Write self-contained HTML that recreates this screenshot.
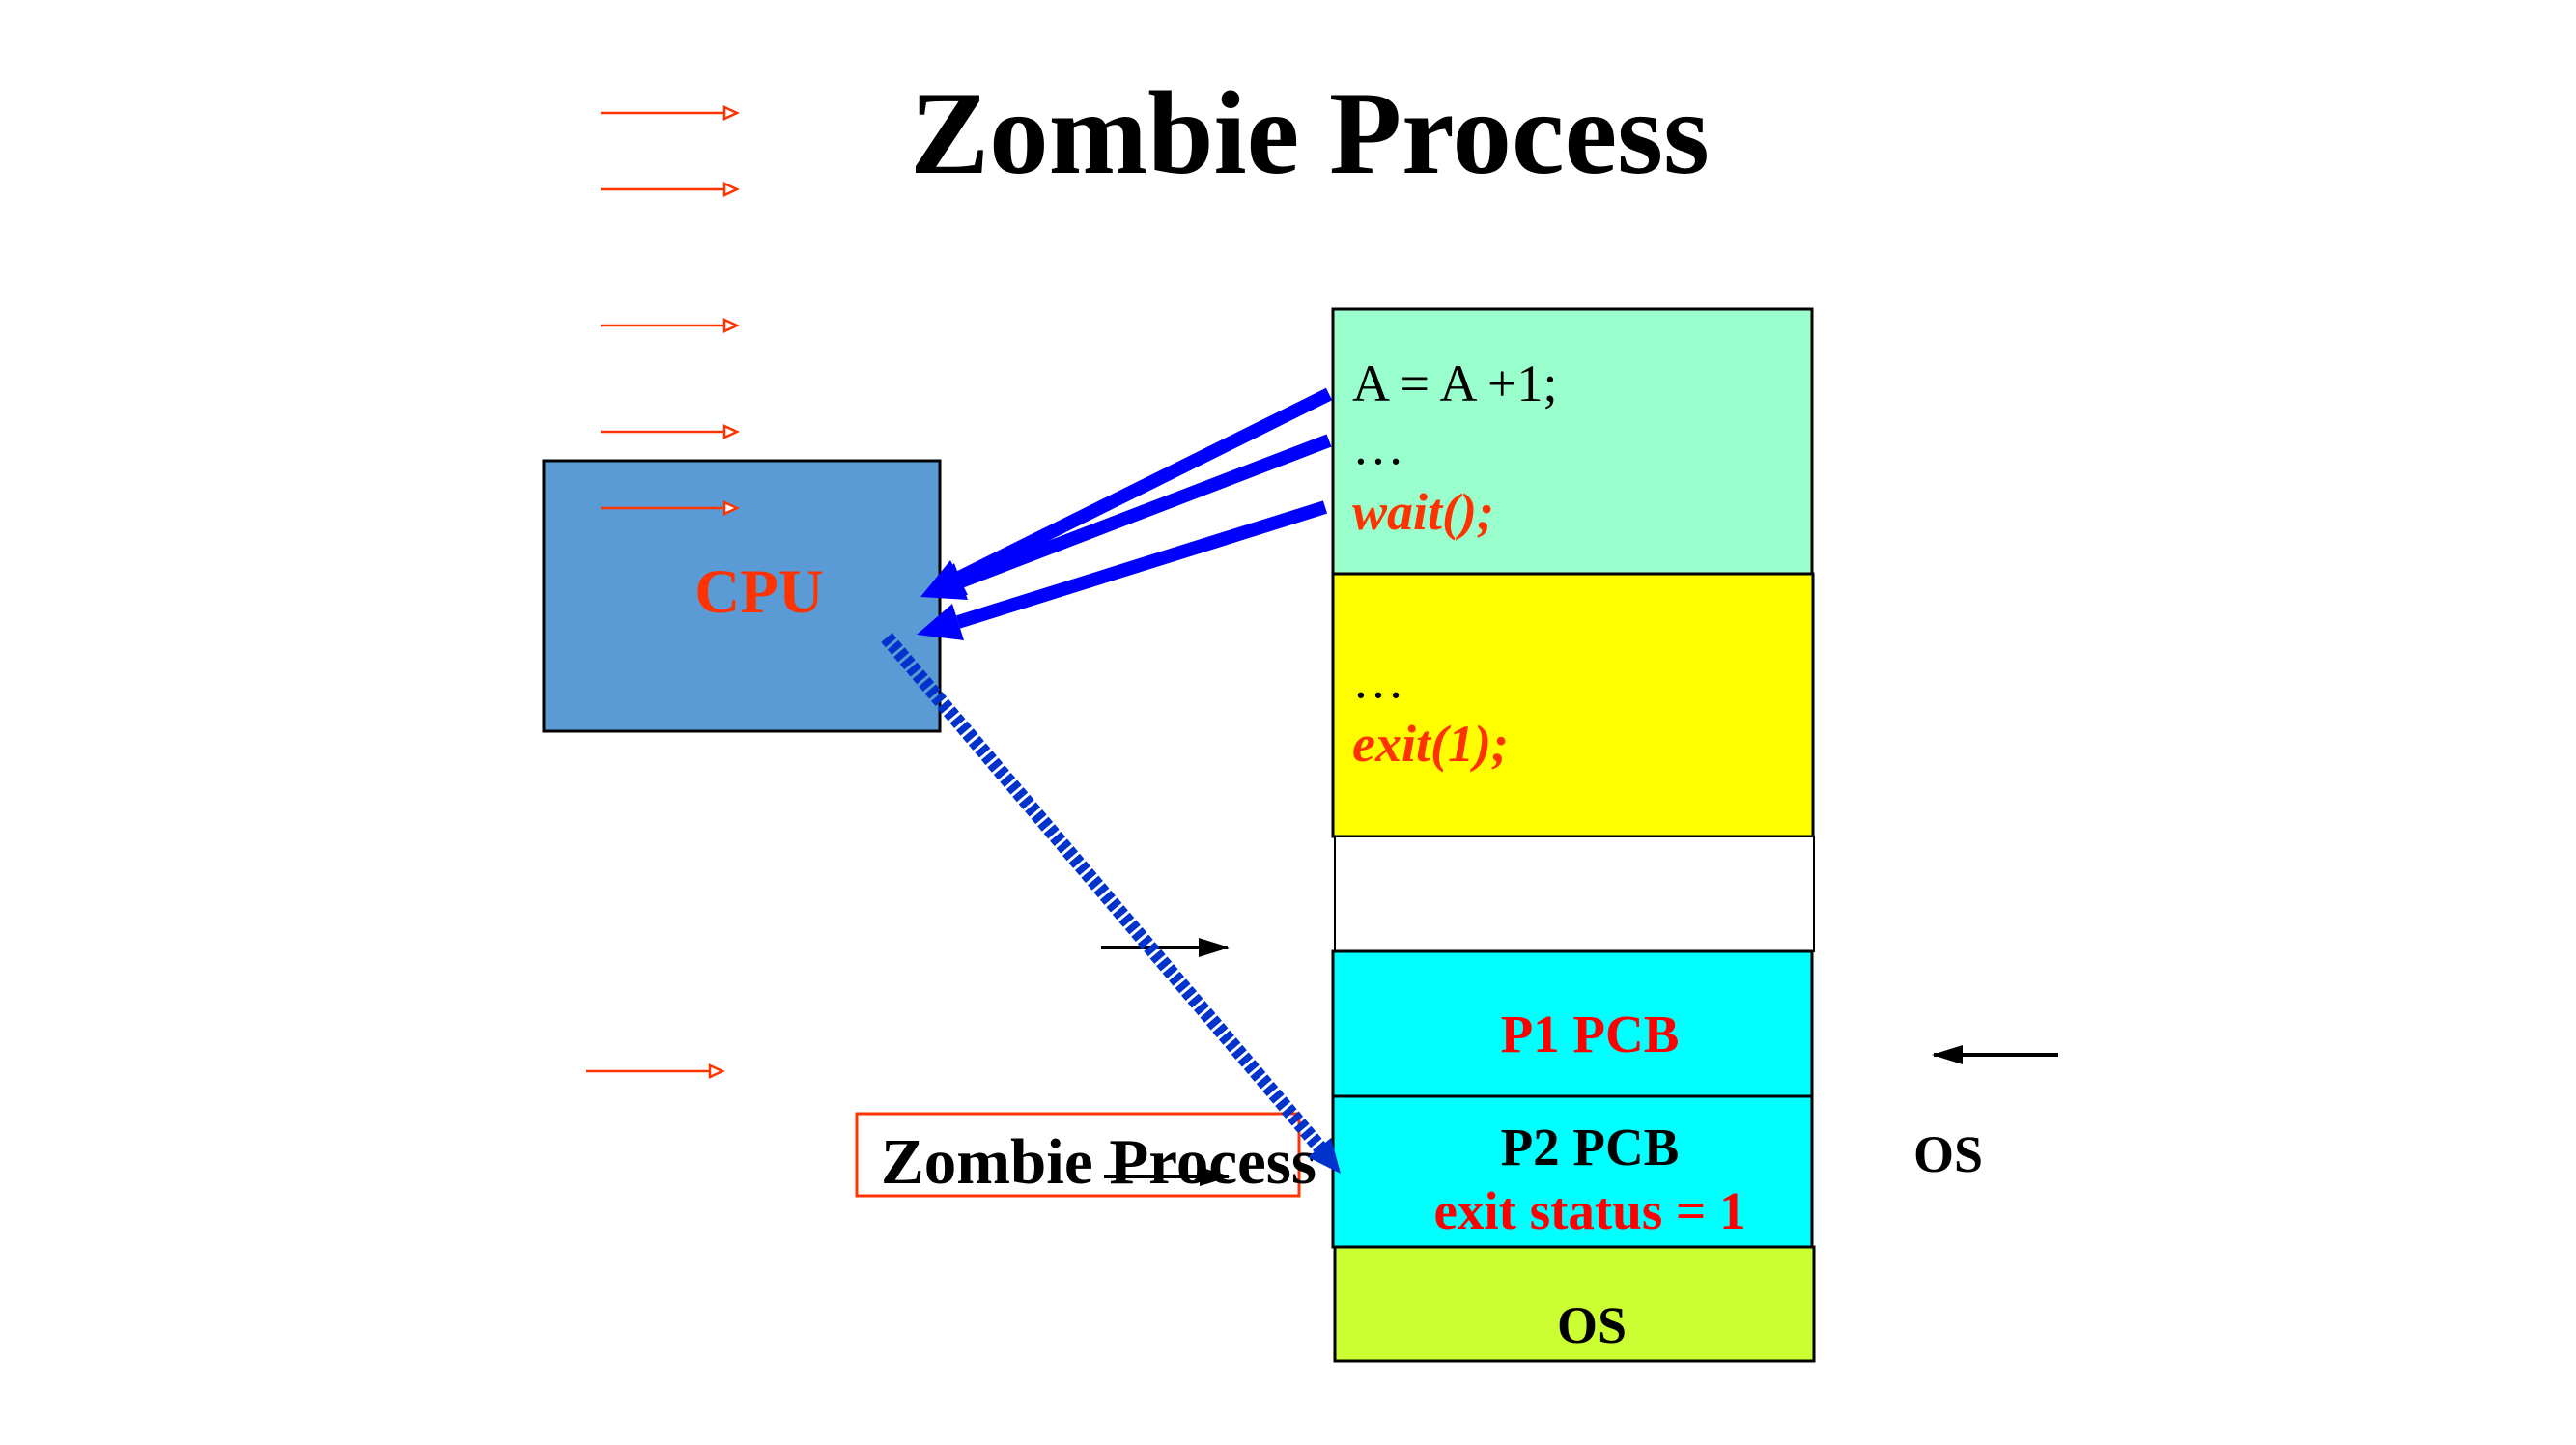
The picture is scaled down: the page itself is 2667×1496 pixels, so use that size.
<!DOCTYPE html>
<html><head><meta charset="utf-8"><style>
html,body{margin:0;padding:0;background:#fff}
svg{display:block}
text{font-family:"Liberation Serif",serif}
</style></head><body>
<svg width="2667" height="1496" viewBox="0 0 2667 1496" xmlns="http://www.w3.org/2000/svg">
<defs>
<marker id="ba" markerWidth="32" markerHeight="22" refX="30" refY="11" orient="auto" markerUnits="userSpaceOnUse"><path d="M0,1 L32,11 L0,21 Z" fill="#000"/></marker>
</defs>
<text x="1356" y="179" font-size="123" font-weight="bold" text-anchor="middle">Zombie Process</text>
<g stroke="#FF3300" stroke-width="2.5" fill="none">
<line x1="622" y1="117" x2="760" y2="117"/><polygon points="750,111 763,117 750,123" fill="#fff"/>
<line x1="622" y1="196" x2="760" y2="196"/><polygon points="750,190 763,196 750,202" fill="#fff"/>
<line x1="622" y1="337" x2="760" y2="337"/><polygon points="750,331 763,337 750,343" fill="#fff"/>
<line x1="622" y1="447" x2="760" y2="447"/><polygon points="750,441 763,447 750,453" fill="#fff"/>
<line x1="607" y1="1109" x2="745" y2="1109"/><polygon points="735,1103 748,1109 735,1115" fill="#fff"/>
</g>
<rect x="563" y="477" width="410" height="280" fill="#5B9BD5" stroke="#000" stroke-width="3"/>
<g stroke="#FF3300" stroke-width="2.5" fill="none">
<line x1="622" y1="526" x2="760" y2="526"/><polygon points="750,520 763,526 750,532" fill="#fff"/>
</g>
<text x="786" y="634" font-size="65" font-weight="bold" fill="#FF3300" text-anchor="middle">CPU</text>
<rect x="1380" y="320" width="496" height="274" fill="#99FFCC" stroke="#000" stroke-width="3"/>
<rect x="1380" y="594" width="497" height="272" fill="#FFFF00" stroke="#000" stroke-width="3"/>
<rect x="1382" y="866" width="496" height="119" fill="#fff" stroke="#000" stroke-width="2"/>
<rect x="1380" y="985" width="496" height="150" fill="#00FFFF" stroke="#000" stroke-width="3"/>
<rect x="1380" y="1135" width="496" height="156" fill="#00FFFF" stroke="#000" stroke-width="3"/>
<rect x="1382" y="1291" width="496" height="118" fill="#CCFF33" stroke="#000" stroke-width="3"/>
<text x="1400" y="415" font-size="54">A = A +1;</text>
<text x="1400" y="480" font-size="54">…</text>
<text x="1400" y="548" font-size="54" font-weight="bold" font-style="italic" fill="#FF3300">wait();</text>
<text x="1400" y="722" font-size="54">…</text>
<text x="1400" y="788" font-size="54" font-weight="bold" font-style="italic" fill="#FF3300">exit(1);</text>
<text x="1646" y="1089" font-size="55" font-weight="bold" fill="#FF0000" text-anchor="middle">P1 PCB</text>
<text x="1646" y="1206" font-size="55" font-weight="bold" text-anchor="middle">P2 PCB</text>
<text x="1646" y="1272" font-size="55" font-weight="bold" fill="#FF0000" text-anchor="middle">exit status = 1</text>
<text x="1648" y="1390" font-size="54" font-weight="bold" text-anchor="middle">OS</text>
<text x="2017" y="1213" font-size="54" font-weight="bold" text-anchor="middle">OS</text>
<line x1="2131" y1="1092" x2="2002" y2="1092" stroke="#000" stroke-width="4" marker-end="url(#ba)"/>
<line x1="1140" y1="981" x2="1271" y2="981" stroke="#000" stroke-width="4" marker-end="url(#ba)"/>
<rect x="887" y="1153" width="458" height="85" fill="none" stroke="#FF3300" stroke-width="3"/>
<text x="912" y="1225" font-size="67" font-weight="bold">Zombie Process</text>
<line x1="1143" y1="1218" x2="1272" y2="1218" stroke="#000" stroke-width="4" marker-end="url(#ba)"/>
<g fill="#0000FF">
<line x1="1376" y1="408" x2="993" y2="598" stroke="#0000FF" stroke-width="14"/>
<polygon points="953,618 984,580 1002,616"/>
<line x1="1376" y1="456" x2="995" y2="602" stroke="#0000FF" stroke-width="14"/>
<polygon points="953,618 988,583 1002,621"/>
<line x1="1372" y1="525" x2="992" y2="644" stroke="#0000FF" stroke-width="14"/>
<polygon points="949,657 986,625 998,663"/>
</g>
<line x1="918" y1="660" x2="1370" y2="1192" stroke="#0033CC" stroke-width="15" stroke-dasharray="7,3"/>
<polygon points="1388,1215 1354,1198 1378,1178" fill="#0033CC"/>
</svg>
</body></html>
